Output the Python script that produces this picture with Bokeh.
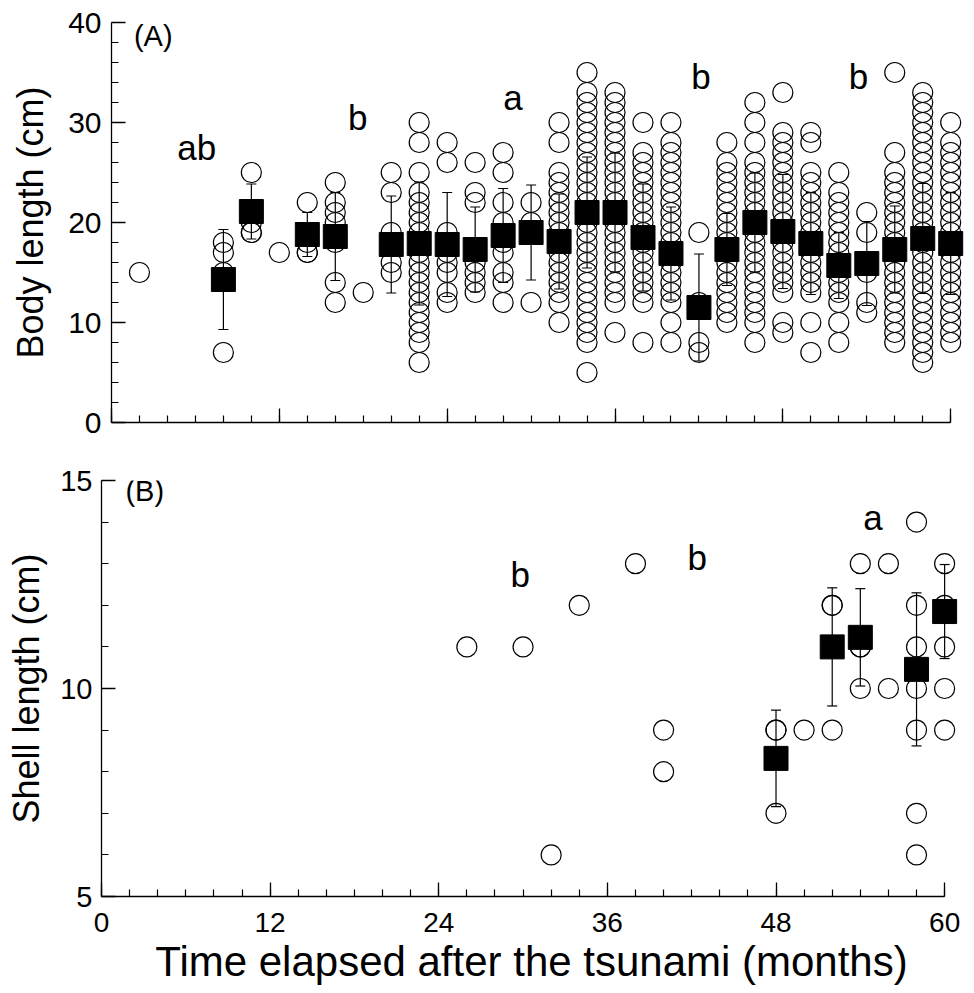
import numpy as np
from bokeh.plotting import figure
from bokeh.models import Range1d, FixedTicker, Label, Whisker, ColumnDataSource, TeeHead
from bokeh.embed import file_html
from bokeh.resources import INLINE

FONT = "Liberation Sans"

# ---------------- Panel A: body length ----------------
a_months = [2, 8, 10, 12, 14, 16, 18, 20, 22, 24, 26, 28, 30, 32, 34, 36, 38, 40,
            42, 44, 46, 48, 50, 52, 54, 56, 58, 60]
a_values = [
    [15],
    [18, 17, 15, 7],
    [25, 20, 19, 19],
    [17],
    [22, 19, 18, 17, 17],
    [24, 22, 21, 20, 18, 14, 12],
    [13],
    [25, 23, 19, 18, 16, 15],
    [30, 28, 25, 23, 22, 21, 20, 19, 18, 17, 16, 15, 14, 13, 12, 11, 10, 9, 8, 6],
    [28, 26, 19, 17, 16, 15, 13, 12],
    [26, 23, 22, 17, 16, 15, 14, 13],
    [27, 25, 22, 20, 18, 17, 15, 14, 12],
    [22, 20, 19, 12],
    [30, 28, 25, 24, 23, 22, 21, 20, 19, 18, 17, 16, 15, 14, 13, 12, 10],
    [35, 33, 32, 31, 30, 29, 28, 27, 26, 25, 24, 23, 22, 21, 20, 19, 18, 17, 16, 15,
     14, 13, 12, 11, 10, 9, 8, 5],
    [33, 32, 31, 30, 29, 28, 27, 26, 25, 24, 23, 22, 21, 20, 19, 18, 17, 16, 15, 14,
     13, 12, 9],
    [30, 27, 26, 25, 24, 23, 22, 21, 20, 19, 18, 17, 16, 15, 14, 13, 12, 8],
    [30, 28, 27, 26, 25, 24, 23, 22, 21, 20, 19, 18, 17, 16, 15, 14, 13, 12, 10, 8],
    [19, 12, 8, 7],
    [28, 26, 25, 24, 23, 22, 21, 20, 19, 18, 17, 16, 15, 14, 13, 12, 11, 10],
    [32, 30, 28, 26, 25, 24, 23, 22, 21, 20, 19, 18, 17, 16, 15, 14, 13, 12, 11, 10, 8],
    [33, 29, 28, 27, 26, 25, 24, 23, 22, 21, 20, 19, 18, 17, 16, 15, 14, 13, 10, 9],
    [29, 28, 25, 24, 23, 22, 21, 20, 19, 18, 17, 16, 15, 14, 13, 10, 7],
    [25, 23, 22, 21, 20, 19, 18, 17, 16, 15, 14, 13, 12, 10, 8],
    [21, 19, 16, 15, 12, 11],
    [35, 27, 25, 24, 23, 22, 21, 20, 19, 18, 17, 16, 15, 14, 13, 12, 11, 10, 9, 8],
    [33, 32, 31, 30, 29, 28, 27, 26, 25, 24, 23, 22, 21, 20, 19, 18, 17, 16, 15, 14,
     13, 12, 11, 10, 9, 8, 7, 6],
    [30, 28, 27, 26, 25, 24, 23, 22, 21, 20, 19, 18, 17, 16, 15, 14, 13, 12, 11, 10, 9, 8],
]
a_mean_months = [8, 10, 14, 16, 20, 22, 24, 26, 28, 30, 32, 34, 36, 38, 40, 42, 44,
                 46, 48, 50, 52, 54, 56, 58, 60]
a_means = [14.3, 21.1, 18.8, 18.6, 17.8, 17.9, 17.8, 17.3, 18.7, 19.0, 18.1, 21.0,
           21.0, 18.5, 16.9, 11.5, 17.3, 20.0, 19.1, 17.9, 15.7, 15.9, 17.3, 18.4, 17.9]
a_sd = [5.0, 2.75, 2.2, 4.4, 4.85, 6.15, 5.2, 4.25, 4.7, 4.75, 4.75, 5.55, 5.95,
        5.35, 4.65, 5.35, 3.6, 4.95, 5.7, 5.1, 3.3, 4.2, 4.35, 5.5, 5.1]
a_letters = ["ab", "b", "a", "b", "b"]
a_letter_x = [6.1, 17.6, 28.7, 42.15, 53.4]
a_letter_y = [27.5, 30.5, 32.5, 34.6, 34.6]

# ---------------- Panel B: shell length ----------------
b_months = [26, 30, 32, 34, 38, 40, 48, 50, 52, 54, 56, 58, 60]
b_values = [
    [11], [11], [6], [12], [13], [9, 8], [9, 9, 7], [9], [12, 12, 11, 9],
    [13, 11, 11, 10], [13, 10], [14, 12, 11, 10, 9, 7, 6], [13, 12, 11, 10, 9],
]
b_mean_months = [48, 52, 54, 58, 60]
b_means = [8.32, 11.0, 11.23, 10.46, 11.85]
b_sd = [1.16, 1.42, 1.17, 1.84, 1.13]
b_letters = ["b", "b", "a"]
b_letter_x = [29.8, 42.4, 54.9]
b_letter_y = [12.74, 13.15, 14.1]

x_ticks = [0, 12, 24, 36, 48, 60]


def flatten(months, values):
    xs, ys = [], []
    for m, vals in zip(months, values):
        for v in vals:
            xs.append(m)
            ys.append(v)
    return xs, ys


def style(p):
    p.grid.visible = False
    p.outline_line_color = None
    p.background_fill_color = "white"
    p.border_fill_color = "white"
    for ax in p.xaxis + p.yaxis:
        ax.axis_line_color = "black"
        ax.axis_line_width = 1.3
        ax.major_tick_line_color = "black"
        ax.major_tick_line_width = 1.3
        ax.minor_tick_line_color = "black"
        ax.minor_tick_line_width = 1.2
        ax.major_tick_in = 14
        ax.major_tick_out = 0
        ax.minor_tick_in = 7
        ax.minor_tick_out = 0
        ax.major_label_text_font = FONT
        ax.major_label_text_font_size = "29px"
        ax.major_label_text_color = "black"
        ax.axis_label_text_font = FONT
        ax.axis_label_text_font_style = "normal"
        ax.axis_label_text_color = "black"


def add_data(p, months, values, mmonths, means, sds):
    xs, ys = flatten(months, values)
    p.scatter(xs, ys, marker="circle", size=20, fill_alpha=0,
              line_color="black", line_width=1.2)
    src = ColumnDataSource(dict(
        x=mmonths, m=means,
        upper=[m + s for m, s in zip(means, sds)],
        lower=[m - s for m, s in zip(means, sds)]))
    p.add_layout(Whisker(source=src, base="x", upper="upper", lower="lower",
                         line_color="black", line_width=1.2,
                         upper_head=TeeHead(size=10, line_color="black", line_width=1.2),
                         lower_head=TeeHead(size=10, line_color="black", line_width=1.2)))
    p.scatter("x", "m", source=src, marker="square", size=24,
              fill_color="black", line_color="black")


XMAX = 61.2

# Panel A figure
pA = figure(width=967, height=452, output_backend="svg", toolbar_location=None,
            x_range=Range1d(0, XMAX), y_range=Range1d(0, 40),
            min_border_left=111, min_border_right=0, min_border_top=22,
            min_border_bottom=30)
style(pA)
pA.xaxis.bounds = (0, 60)
pA.yaxis.bounds = (0, 40)
pA.xaxis.ticker = FixedTicker(ticks=x_ticks, minor_ticks=list(np.arange(0, 61, 2)))
pA.yaxis.ticker = FixedTicker(ticks=[0, 10, 20, 30, 40],
                              minor_ticks=list(np.arange(0, 41, 2)))
pA.xaxis.major_label_overrides = {t: "" for t in x_ticks}
pA.xaxis.major_label_standoff = 0
pA.yaxis.major_label_text_font_size = "30px"
pA.yaxis.major_label_standoff = 10
pA.yaxis.axis_label = "Body length (cm)"
pA.yaxis.axis_label_text_font_size = "36px"
pA.yaxis.axis_label_standoff = 14
add_data(pA, a_months, a_values, a_mean_months, a_means, a_sd)
pA.add_layout(Label(x=1.6, y=38.7, text="(A)", text_font=FONT, text_font_size="29px",
                    text_align="left", text_baseline="middle", text_color="black"))
for t, x, y in zip(a_letters, a_letter_x, a_letter_y):
    pA.add_layout(Label(x=x, y=y, text=t, text_font=FONT, text_font_size="35px",
                        text_align="center", text_baseline="middle", text_color="black"))

# Panel B figure
pB = figure(width=961, height=541, output_backend="svg", toolbar_location=None,
            x_range=Range1d(0, XMAX), y_range=Range1d(5, 15),
            min_border_left=101, min_border_right=0, min_border_top=28,
            min_border_bottom=97)
style(pB)
pB.xaxis.bounds = (0, 60)
pB.yaxis.bounds = (5, 15)
pB.xaxis.ticker = FixedTicker(ticks=x_ticks, minor_ticks=list(np.arange(0, 61, 2)))
pB.yaxis.ticker = FixedTicker(ticks=[5, 10, 15], minor_ticks=list(np.arange(5, 16, 1)))
pB.xaxis.major_label_text_font_size = "28px"
pB.xaxis.major_label_standoff = 16
pB.yaxis.major_label_standoff = 9
pB.xaxis.axis_label = "Time elapsed after the tsunami (months)"
pB.xaxis.axis_label_text_font_size = "42px"
pB.xaxis.axis_label_standoff = 3
pB.yaxis.axis_label = "Shell length (cm)"
pB.yaxis.axis_label_text_font_size = "36px"
pB.yaxis.axis_label_standoff = 10
add_data(pB, b_months, b_values, b_mean_months, b_means, b_sd)
pB.add_layout(Label(x=1.7, y=14.74, text="(B)", text_font=FONT, text_font_size="29px",
                    text_align="left", text_baseline="middle", text_color="black"))
for t, x, y in zip(b_letters, b_letter_x, b_letter_y):
    pB.add_layout(Label(x=x, y=y, text=t, text_font=FONT, text_font_size="35px",
                        text_align="center", text_baseline="middle", text_color="black"))

# two independent roots so that the two frames are not forced to align
open("out.html", "w").write(file_html([pA, pB], INLINE))
